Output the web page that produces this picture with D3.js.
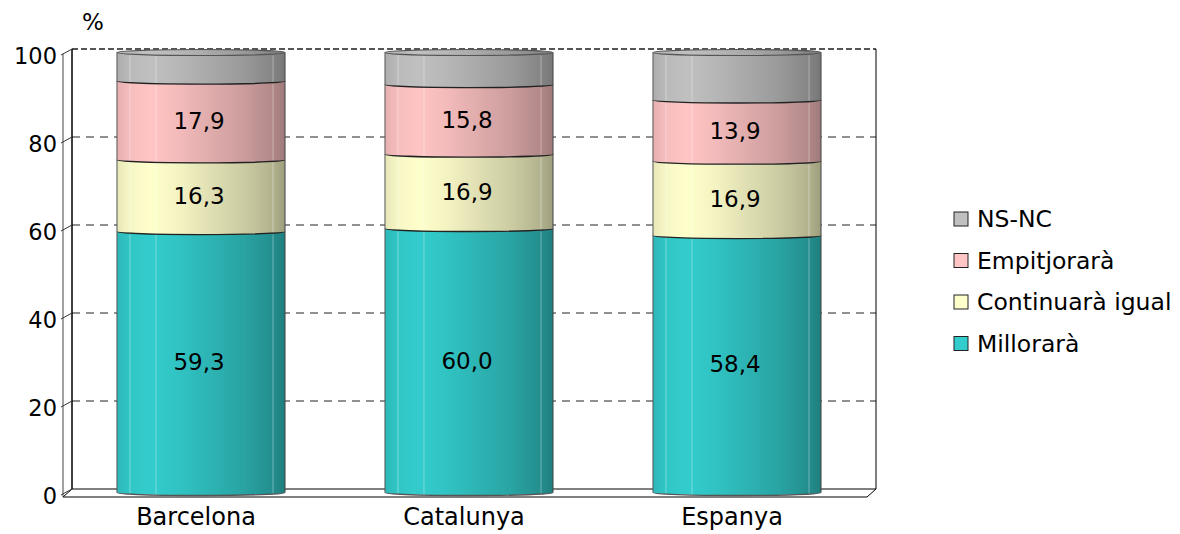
<!DOCTYPE html>
<html><head><meta charset="utf-8">
<script src="https://cdn.jsdelivr.net/npm/d3@7"></script>
<style>
body{margin:0;background:#fff;}
text{font-family:"DejaVu Sans",Verdana,sans-serif;font-size:23px;fill:#000;}
</style></head><body>
<svg id="c" width="1180" height="534"></svg>
<script>
const categories = ["Barcelona","Catalunya","Espanya"];
const seriesNames = ["Millorarà","Continuarà igual","Empitjorarà","NS-NC"];
const millorara = [59.3, 60.0, 58.4];
const continuara = [16.3, 16.9, 16.9];
const empitjorara = [17.9, 15.8, 13.9];
const nsnc = [6.5, 7.3, 10.8];
const showLabel = [true, true, true, false];
const colors = ["#33CCCC","#FFFFCC","#FFC4C4","#C0C0C0"];
const yTicks = [0,20,40,60,80,100];

const seriesVals = [millorara, continuara, empitjorara, nsnc];
const svg = d3.select("#c");
const defs = svg.append("defs");

// 3D geometry
const dx = 9;
const yFront = d3.scaleLinear().domain([0,100]).range([496, 56]);
const yBack = v => yFront(v) - 7;
const yBar = d3.scaleLinear().domain([0,100]).range([492.5, 52.5]);
const xFrontL = 63, xFrontR = 867;
const xC = d3.scalePoint().domain(categories).range([67, 871]).padding(0.5);
const barW = xC.step() * 0.627;
const rx = barW/2, ry = 3;

// gradients
colors.forEach((c,i)=>{
  const g = defs.append("linearGradient").attr("id","g"+i).attr("x1","0").attr("x2","1").attr("y1","0").attr("y2","0");
  const base = d3.rgb(c);
  const stops = [[0,0.9],[0.08,0.97],[0.2,1.0],[0.35,0.96],[0.55,0.88],[0.75,0.8],[0.92,0.7],[1,0.62]];
  stops.forEach(([o,k])=>{
    g.append("stop").attr("offset",o).attr("stop-color", d3.rgb(base.r*k, base.g*k, base.b*k).formatHex());
  });
});

// back wall gridlines
const grid = svg.append("g");
yTicks.filter(t=>t>0).forEach(t=>{
  grid.append("line").attr("x1",xFrontL+dx).attr("x2",xFrontR+dx)
    .attr("y1",yBack(t)).attr("y2",yBack(t))
    .attr("stroke", t===100 ? "#555" : "#222")
    .attr("stroke-width", t===100 ? 2 : 1)
    .attr("stroke-dasharray", t===100 ? "6,3" : "8,6");
});

// walls / floor
const frame = svg.append("g").attr("stroke","#000").attr("fill","none");
frame.append("line").attr("x1",xFrontL+dx).attr("x2",xFrontL+dx).attr("y1",yBack(100)).attr("y2",yBack(0)).attr("stroke-width",1.5);
frame.append("line").attr("x1",xFrontR+dx).attr("x2",xFrontR+dx).attr("y1",yBack(100)).attr("y2",yBack(0));
frame.append("line").attr("x1",xFrontL+dx).attr("x2",xFrontR+dx).attr("y1",yBack(0)).attr("y2",yBack(0));
frame.append("line").attr("x1",xFrontL).attr("x2",xFrontR).attr("y1",yFront(0)+1).attr("y2",yFront(0)+1);
frame.append("line").attr("x1",xFrontR).attr("x2",xFrontR+dx).attr("y1",yFront(0)+1).attr("y2",yBack(0));
frame.append("line").attr("x1",xFrontL).attr("x2",xFrontL+dx).attr("y1",yFront(0)+1).attr("y2",yBack(0));
frame.append("line").attr("x1",xFrontL).attr("x2",xFrontL).attr("y1",yFront(100)-2).attr("y2",yFront(0)+1).attr("stroke","#444");
yTicks.forEach(t=>{
  frame.append("line").attr("x1",xFrontL-2).attr("x2",xFrontL+dx).attr("y1",yFront(t)-1).attr("y2",yBack(t)).attr("stroke","#333");
});

// y axis labels
const ax = svg.append("g").attr("transform",`translate(${xFrontL-4},0)`)
  .call(d3.axisLeft(yFront).tickValues(yTicks).tickSize(0).tickPadding(2));
ax.select(".domain").remove();
ax.selectAll("text").style("font-family","DejaVu Sans").style("font-size","22.5px").attr("fill","#000").attr("dy","0.35em");

svg.append("text").attr("x",93).attr("y",30).attr("text-anchor","middle").text("%");

// bars
const bars = svg.append("g");
categories.forEach((cat,ci)=>{
  const cx = xC(cat), L = cx - rx, R = cx + rx;
  let acc = 0;
  seriesVals.forEach((arr,si)=>{
    const v0 = acc, v1 = acc + arr[ci]; acc = v1;
    const yb = yBar(v0), yt = yBar(v1);
    const p = `M${L},${yt} A${rx},${ry} 0 0 0 ${R},${yt} L${R},${yb} A${rx},${ry} 0 0 1 ${L},${yb} Z`;
    bars.append("path").attr("d",p).attr("fill",`url(#g${si})`).attr("stroke","none");
    [L+13, L+39, R-12].forEach(x=>{
      bars.append("line").attr("x1",x).attr("x2",x).attr("y1",yt+3).attr("y2",yb+2)
        .attr("stroke","#fff").attr("stroke-opacity",0.35).attr("stroke-width",1);
    });
    bars.append("path").attr("d",`M${L},${yb} A${rx},${ry} 0 0 0 ${R},${yb}`)
      .attr("fill","none").attr("stroke", v0===0 ? "#555" : "#222").attr("stroke-width",1.3);
    bars.append("line").attr("x1",L).attr("x2",L).attr("y1",yt).attr("y2",yb).attr("stroke","#555").attr("stroke-width",1);
    bars.append("line").attr("x1",R).attr("x2",R).attr("y1",yt).attr("y2",yb).attr("stroke","#444").attr("stroke-width",1);
    if (showLabel[si]) {
      bars.append("text").attr("x",cx-2).attr("y",(yb+yt)/2).attr("dy","0.36em")
        .attr("text-anchor","middle").text(d3.format(".1f")(arr[ci]).replace(".",","));
    }
  });
  const yt = yBar(acc);
  bars.append("ellipse").attr("cx",cx).attr("cy",yt).attr("rx",rx).attr("ry",ry)
    .attr("fill","url(#g3)").attr("stroke","#555").attr("stroke-width",1.2);
  svg.append("text").attr("x",cx-5).attr("y",525).attr("text-anchor","middle").style("font-size","24px").text(cat);
});

// legend
const legendOrder = [3,2,1,0];
const lg = svg.append("g");
legendOrder.forEach((si,i)=>{
  const cy = 219 + i*41.5;
  lg.append("rect").attr("x",954).attr("y",cy-7).attr("width",14).attr("height",14)
    .attr("fill",colors[si]).attr("stroke","#222").attr("stroke-width",1);
  lg.append("text").attr("x",977).attr("y",cy).attr("dy","0.36em").style("font-size","23.5px").text(seriesNames[si]);
});
</script>
</body></html>
